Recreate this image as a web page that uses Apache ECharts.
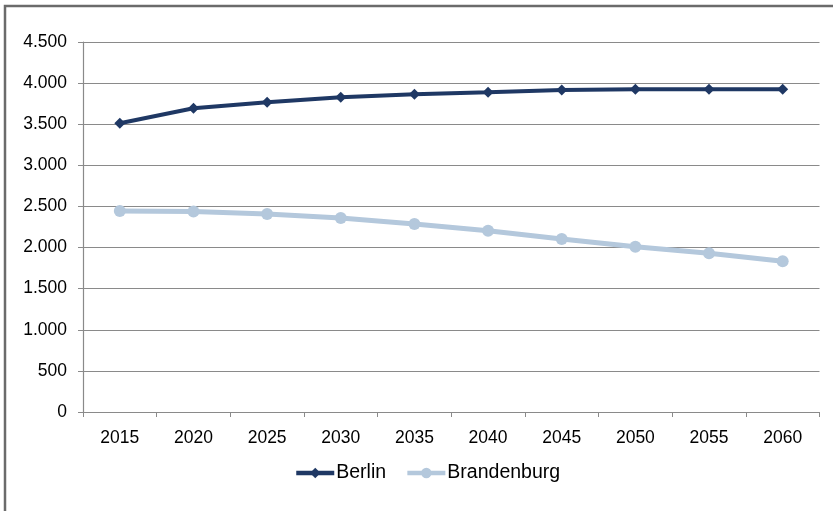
<!DOCTYPE html>
<html>
<head>
<meta charset="utf-8">
<script src="https://cdn.jsdelivr.net/npm/echarts@6/dist/echarts.min.js"></script>
<style>
  html, body { margin: 0; padding: 0; background: #ffffff; }
  #chart { width: 833px; height: 511px; }
</style>
</head>
<body>
<div id="chart"></div>
<script>
// Population projection (thousands), Berlin and Brandenburg
const years = ['2015', '2020', '2025', '2030', '2035', '2040', '2045', '2050', '2055', '2060'];
const berlin = [3511, 3694, 3767, 3828, 3864, 3888, 3916, 3925, 3925, 3925];
const brandenburg = [2445, 2438, 2408, 2360, 2287, 2205, 2104, 2011, 1930, 1833];

const fontFamily = '"Liberation Sans", Arial, sans-serif';
const textColor = '#000000';
const fontSize = 17.5;

function formatThousands(v) {
  return String(v).replace(/\B(?=(\d{3})+(?!\d))/g, '.');
}

const chart = echarts.init(document.getElementById('chart'), null, { renderer: 'canvas' });

chart.setOption({
  animation: false,
  backgroundColor: '#ffffff',
  textStyle: { fontFamily: fontFamily },
  grid: { left: 83, right: 13.5, top: 42, bottom: 99, containLabel: false },
  graphic: [
    {
      type: 'polyline',
      shape: { points: [[5, 511], [5, 6], [833, 6]] },
      style: { stroke: '#6b6b6b', lineWidth: 2.5, fill: null },
      silent: true
    }
  ],
  legend: {
    data: ['Berlin', 'Brandenburg'],
    top: 458,
    left: 289,
    itemWidth: 38,
    itemHeight: 13,
    itemGap: 19,
    lineStyle: { width: 4.5 },
    textStyle: { fontFamily: fontFamily, fontSize: 19.5, color: textColor, padding: [0, 0, 0, -3] }
  },
  xAxis: {
    type: 'category',
    data: years,
    boundaryGap: true,
    axisLine: { lineStyle: { color: '#8a8a8a', width: 1.2 } },
    axisTick: { show: true, length: 5, lineStyle: { color: '#8a8a8a' } },
    axisLabel: { fontFamily: fontFamily, fontSize: fontSize, color: textColor, margin: 17 }
  },
  yAxis: {
    type: 'value',
    min: 0,
    max: 4500,
    interval: 500,
    axisLine: { show: true, lineStyle: { color: '#8a8a8a', width: 1.2 } },
    axisTick: { show: true, length: 5, lineStyle: { color: '#8a8a8a' } },
    splitLine: { show: true, lineStyle: { color: '#8a8a8a', width: 1.2 } },
    axisLabel: {
      fontFamily: fontFamily, fontSize: fontSize, color: textColor, margin: 16,
      formatter: formatThousands
    }
  },
  series: [
    {
      name: 'Berlin',
      type: 'line',
      data: berlin,
      symbol: 'diamond',
      symbolSize: 11,
      lineStyle: { color: '#1f3864', width: 4 },
      itemStyle: { color: '#1f3864' },
      z: 3
    },
    {
      name: 'Brandenburg',
      type: 'line',
      data: brandenburg,
      symbol: 'circle',
      symbolSize: 12,
      lineStyle: { color: '#b4c8dc', width: 5 },
      itemStyle: { color: '#b4c8dc' },
      z: 2
    }
  ]
});
</script>
</body>
</html>
